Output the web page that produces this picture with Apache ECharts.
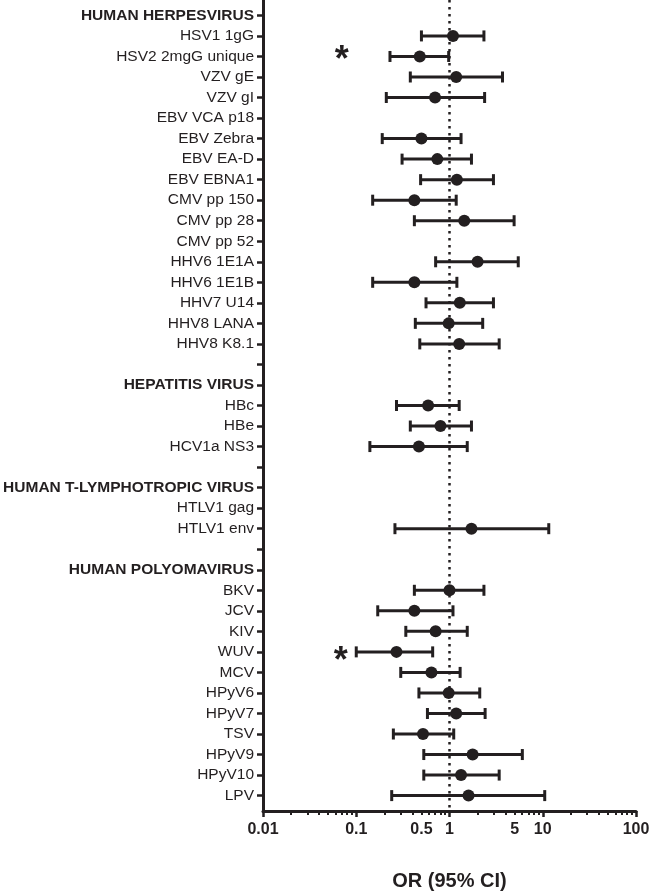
<!DOCTYPE html>
<html>
<head>
<meta charset="utf-8">
<script src="https://cdn.jsdelivr.net/npm/echarts@6/dist/echarts.min.js"></script>
<style>
  html, body { margin: 0; padding: 0; background: #fff; }
  #chart { width: 650px; height: 894px; }
</style>
</head>
<body>
<div id="chart"></div>
<script>
// rows from top to bottom, '' = spacer row (tick only)
const rowLabels = [
  'HUMAN HERPESVIRUS', 'HSV1 1gG', 'HSV2 2mgG unique', 'VZV gE', 'VZV gI', 'EBV VCA p18',
  'EBV Zebra', 'EBV EA-D', 'EBV EBNA1', 'CMV pp 150', 'CMV pp 28', 'CMV pp 52',
  'HHV6 1E1A', 'HHV6 1E1B', 'HHV7 U14', 'HHV8 LANA', 'HHV8 K8.1', '',
  'HEPATITIS VIRUS', 'HBc', 'HBe', 'HCV1a NS3', '',
  'HUMAN T-LYMPHOTROPIC VIRUS', 'HTLV1 gag', 'HTLV1 env', '',
  'HUMAN POLYOMAVIRUS', 'BKV', 'JCV', 'KIV', 'WUV', 'MCV', 'HPyV6', 'HPyV7', 'TSV',
  'HPyV9', 'HPyV10', 'LPV'
]
const headerRows = ['HUMAN HERPESVIRUS', 'HEPATITIS VIRUS', 'HUMAN T-LYMPHOTROPIC VIRUS', 'HUMAN POLYOMAVIRUS']

// odds ratio and 95% CI per row (null = no estimate)
const oddsRatio = [
  null, 1.09, 0.48, 1.18, 0.70, null,
  0.50, 0.74, 1.20, 0.42, 1.44, null,
  2.00, 0.42, 1.29, 0.98, 1.27, null,
  null, 0.59, 0.80, 0.47, null,
  null, null, 1.72, null,
  null, 1.00, 0.42, 0.71, 0.27, 0.64, 0.98, 1.18, 0.52,
  1.77, 1.33, 1.60
]
const ciLower = [
  null, 0.50, 0.23, 0.38, 0.21, null,
  0.19, 0.31, 0.49, 0.15, 0.42, null,
  0.71, 0.15, 0.56, 0.43, 0.48, null,
  null, 0.27, 0.38, 0.14, null,
  null, null, 0.26, null,
  null, 0.42, 0.17, 0.34, 0.10, 0.30, 0.47, 0.58, 0.25,
  0.53, 0.53, 0.24
]
const ciUpper = [
  null, 2.34, 0.98, 3.70, 2.38, null,
  1.33, 1.72, 2.96, 1.18, 4.93, null,
  5.46, 1.20, 2.96, 2.27, 3.41, null,
  null, 1.27, 1.72, 1.55, null,
  null, null, 11.6, null,
  null, 2.34, 1.09, 1.55, 0.66, 1.30, 2.11, 2.41, 1.11,
  6.04, 3.41, 10.5
]

// significance markers (x in OR units, y in row units)
const starX = [0.07, 0.068]
const starY = [1.95, 31.2]

const xLabelValues = [0.01, 0.1, 0.5, 1, 5, 10, 100]
const xMajorTicks = [0.01, 0.1, 1, 10, 100]

const ink = '#231f20'
const font = 'Liberation Sans, Arial, sans-serif'

const rowIdx = rowLabels.map((_, i) => i)
const minorTicks = []
xMajorTicks.slice(0, -1).forEach(d => {
  for (let k = 2; k <= 9; k++) minorTicks.push(+(d * k).toPrecision(3))
})

const pointData = []
const ciData = []
rowLabels.forEach((_, i) => {
  if (oddsRatio[i] != null) {
    pointData.push([oddsRatio[i], i])
    ciData.push([ciLower[i], ciUpper[i], i])
  }
})
const starData = starX.map((x, i) => [x, starY[i]])

const chart = echarts.init(document.getElementById('chart'))

const option = {
  animation: false,
  grid: {
    left: 263,
    right: 14,
    top: 0,
    bottom: 83,
    containLabel: false,
    outerBoundsMode: 'none'
  },
  xAxis: [
    {
      // minor ticks (drawn first, under the main axis)
      type: 'log',
      logBase: 10,
      min: 0.01,
      max: 100,
      position: 'bottom',
      axisLine: {show: false, onZero: false},
      axisTick: {
        customValues: minorTicks,
        length: 4,
        lineStyle: {color: ink, width: 2}
      },
      axisLabel: {show: false},
      splitLine: {show: false}
    },
    {
      type: 'log',
      logBase: 10,
      min: 0.01,
      max: 100,
      position: 'bottom',
      name: 'OR (95% CI)',
      nameLocation: 'middle',
      nameGap: 60,
      nameTextStyle: {fontFamily: font, fontSize: 20, fontWeight: 'bold', color: ink},
      axisLine: {onZero: false, lineStyle: {color: ink, width: 3}},
      axisTick: {
        customValues: xMajorTicks,
        length: 6,
        lineStyle: {color: ink, width: 2.5}
      },
      axisLabel: {
        customValues: xLabelValues,
        margin: 11,
        fontFamily: font,
        fontSize: 16,
        fontWeight: 'bold',
        color: ink,
        formatter: (v) => String(v)
      },
      splitLine: {show: false}
    }
  ],
  yAxis: {
    type: 'value',
    inverse: true,
    min: -0.75,
    max: 38.75,
    axisLine: {show: true, onZero: false, lineStyle: {color: ink, width: 3}},
    axisTick: {
      customValues: rowIdx,
      length: 6,
      lineStyle: {color: ink, width: 2.5}
    },
    axisLabel: {
      customValues: rowIdx,
      margin: 9,
      fontFamily: font,
      fontSize: 15.5,
      color: ink,
      formatter: (v) => {
        const name = rowLabels[Math.round(v)] || ''
        return headerRows.includes(name) ? '{b|' + name + '}' : name
      },
      rich: {
        b: {fontFamily: font, fontSize: 15.5, fontWeight: 'bold', color: ink}
      }
    },
    splitLine: {show: false}
  },
  series: [
    {
      type: 'custom',
      name: 'CI',
      xAxisIndex: 1,
      data: ciData,
      encode: {x: [0, 1], y: 2},
      renderItem: (params, api) => {
        const lo = api.coord([api.value(0), api.value(2)])
        const hi = api.coord([api.value(1), api.value(2)])
        const h = 5.5
        const style = {stroke: ink, lineWidth: 3}
        return {
          type: 'group',
          children: [
            {type: 'line', shape: {x1: lo[0], y1: lo[1], x2: hi[0], y2: hi[1]}, style},
            {type: 'line', shape: {x1: lo[0], y1: lo[1] - h, x2: lo[0], y2: lo[1] + h}, style},
            {type: 'line', shape: {x1: hi[0], y1: hi[1] - h, x2: hi[0], y2: hi[1] + h}, style}
          ]
        }
      }
    },
    {
      type: 'scatter',
      name: 'OR',
      xAxisIndex: 1,
      data: pointData,
      symbol: 'circle',
      symbolSize: 12,
      itemStyle: {color: ink, opacity: 1},
      z: 3,
      markLine: {
        silent: true,
        symbol: 'none',
        label: {show: false},
        lineStyle: {color: ink, width: 2.5, type: [2.5, 4.5], opacity: 1},
        data: [{xAxis: 1}]
      }
    },
    {
      type: 'scatter',
      name: 'sig',
      xAxisIndex: 1,
      data: starData,
      symbolSize: 0,
      itemStyle: {color: ink, opacity: 1},
      label: {
        show: true,
        position: 'inside',
        formatter: '*',
        fontFamily: font,
        fontSize: 36,
        fontWeight: 'bold',
        color: ink,
        opacity: 1,
        offset: [0, 6]
      }
    }
  ]
}

chart.setOption(option)
</script>
</body>
</html>
